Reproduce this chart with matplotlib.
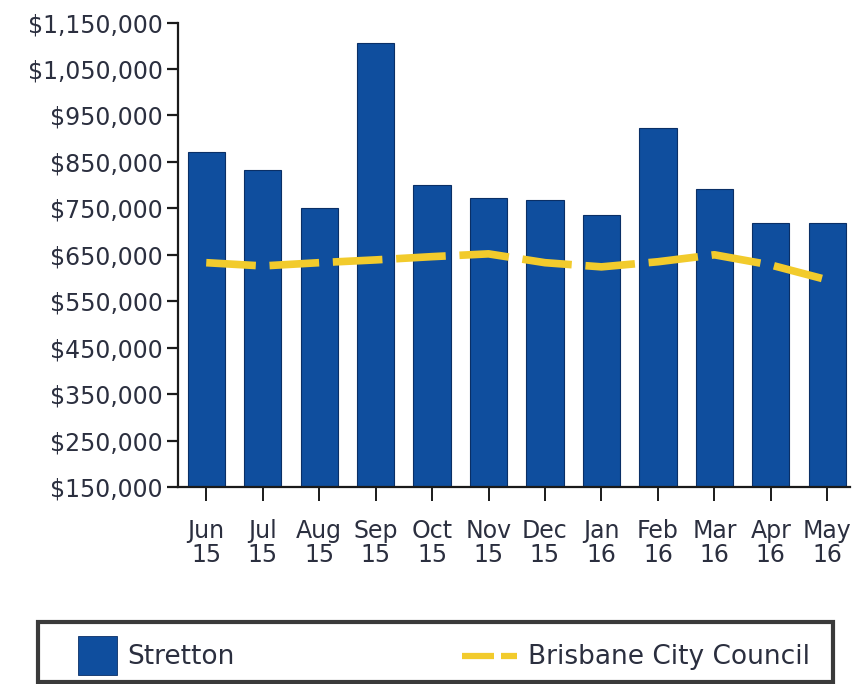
import matplotlib
matplotlib.use("Agg")
import matplotlib.pyplot as plt
from matplotlib.ticker import FuncFormatter
from matplotlib.patches import Rectangle
from matplotlib.lines import Line2D
from matplotlib.legend_handler import HandlerBase

months = ["Jun\n15", "Jul\n15", "Aug\n15", "Sep\n15", "Oct\n15", "Nov\n15",
          "Dec\n15", "Jan\n16", "Feb\n16", "Mar\n16", "Apr\n16", "May\n16"]
stretton = [872000, 833000, 751000, 1105000, 801000, 773000,
            769000, 736000, 924000, 792000, 719000, 719000]
brisbane = [633000, 626000, 633000, 639000, 646000, 652000,
            633000, 624000, 635000, 650000, 628000, 596000]
y_ticks = [150000, 250000, 350000, 450000, 550000, 650000,
           750000, 850000, 950000, 1050000, 1150000]

bar_color = "#0f4e9e"
line_color = "#f2cb2c"
text_color = "#2b2f3f"

fig = plt.figure(figsize=(8.57, 6.84), dpi=100)
ax = fig.add_axes([0.2077, 0.288, 0.784, 0.679])

x = list(range(len(months)))
bars = ax.bar(x, stretton, width=0.66, color=bar_color, edgecolor="#0a2f66",
              linewidth=0.8, label="Stretton", zorder=2)
line, = ax.plot(x, brisbane, color=line_color, linewidth=5.5,
                solid_capstyle="butt", dash_capstyle="butt",
                solid_joinstyle="round",
                label="Brisbane City Council", zorder=3)
line.set_dashes([6.5, 1.8])

ax.set_xlim(-0.5, 11.4)
ax.set_ylim(y_ticks[0], y_ticks[-1])
ax.set_yticks(y_ticks)
ax.yaxis.set_major_formatter(FuncFormatter(lambda v, p: "${:,.0f}".format(v)))
ax.set_xticks(x)
ax.set_xticklabels(months, linespacing=1.0)

for s in ["top", "right"]:
    ax.spines[s].set_visible(False)
for s in ["left", "bottom"]:
    ax.spines[s].set_color("#1a1a1a")
    ax.spines[s].set_linewidth(1.6)

ax.tick_params(axis="y", length=8, width=1.6, color="#1a1a1a",
               labelsize=17, labelcolor=text_color, pad=3)
ax.tick_params(axis="x", length=10, width=1.4, color="#1a1a1a",
               labelsize=17, labelcolor=text_color, pad=13)


class SquareHandler(HandlerBase):
    def create_artists(self, legend, orig_handle, xdescent, ydescent,
                       width, height, fontsize, trans):
        side = 28.0
        r = Rectangle((width - xdescent - side, height / 2 - ydescent - side / 2),
                      side, side, facecolor=bar_color, edgecolor="#0a2f66",
                      linewidth=0.6, transform=trans)
        return [r]


class DashHandler(HandlerBase):
    def create_artists(self, legend, orig_handle, xdescent, ydescent,
                       width, height, fontsize, trans):
        y = height / 2 - ydescent
        x1 = width - xdescent
        x0 = x1 - 40.0
        a = Line2D([x0, x0 + 23.0], [y, y], color=line_color, linewidth=4.5,
                   solid_capstyle="butt", transform=trans)
        b = Line2D([x0 + 28.0, x1], [y, y], color=line_color, linewidth=4.5,
                   solid_capstyle="butt", transform=trans)
        return [a, b]


leg = fig.legend(handles=[bars, line],
                 labels=["Stretton", "Brisbane City Council"],
                 handler_map={type(bars): SquareHandler(), Line2D: DashHandler()},
                 loc="lower left",
                 bbox_to_anchor=(0.0445, 0.003, 0.914, 0.086),
                 mode="expand", ncol=2, frameon=False,
                 fontsize=19, handlelength=2.55, handleheight=1.4,
                 handletextpad=0.42, borderpad=0.42, borderaxespad=0,
                 labelcolor=text_color)

# legend frame box
fig.patches.append(Rectangle((38 / 857, 2 / 684), (833 - 38) / 857, 60 / 684,
                             transform=fig.transFigure, facecolor="none",
                             edgecolor="#3a3a3a", linewidth=3, zorder=5))

fig.savefig("out.png", dpi=100)
